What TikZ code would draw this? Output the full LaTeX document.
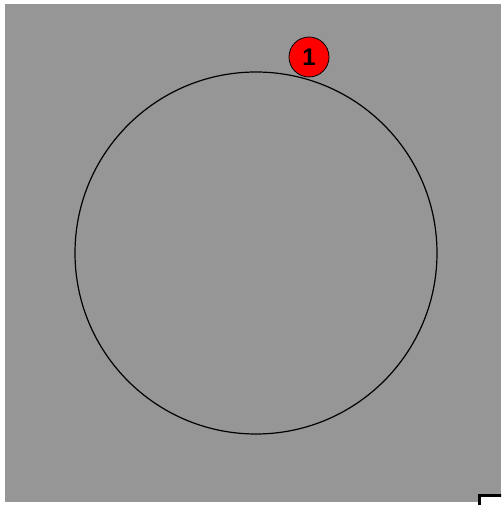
\documentclass[tikz,border=0pt]{standalone}
\usepackage{xcolor}
\usepackage{fontspec}
\setmainfont{Liberation Sans}
\usepackage{tikz}
\usetikzlibrary{positioning}

\definecolor{panelgray}{RGB}{150,150,150}

\begin{document}
\begin{tikzpicture}[
  x=1pt, y=-1pt,
  marker/.style={circle, draw, line width=0.8pt, fill=red, minimum size=40pt, inner sep=0pt, font=\bfseries\fontsize{24}{24}\selectfont},
  ring/.style={draw, line width=1.2pt}
]
\useasboundingbox (0,0) rectangle (501,505);
\clip (0,0) rectangle (501,505);

% Background panel
\fill[panelgray] (5,4) rectangle (501,502);

% Main circle
\coordinate (centre) at (256,253);
\draw[ring] (centre) circle[radius=181pt];

% Marker
\node[marker] (one) at (309,57) {1};

% Corner box
\coordinate (corner) at (520,520);
\draw[line width=3pt, fill=white] (479.5,495.5) rectangle (corner);

\end{tikzpicture}
\end{document}
